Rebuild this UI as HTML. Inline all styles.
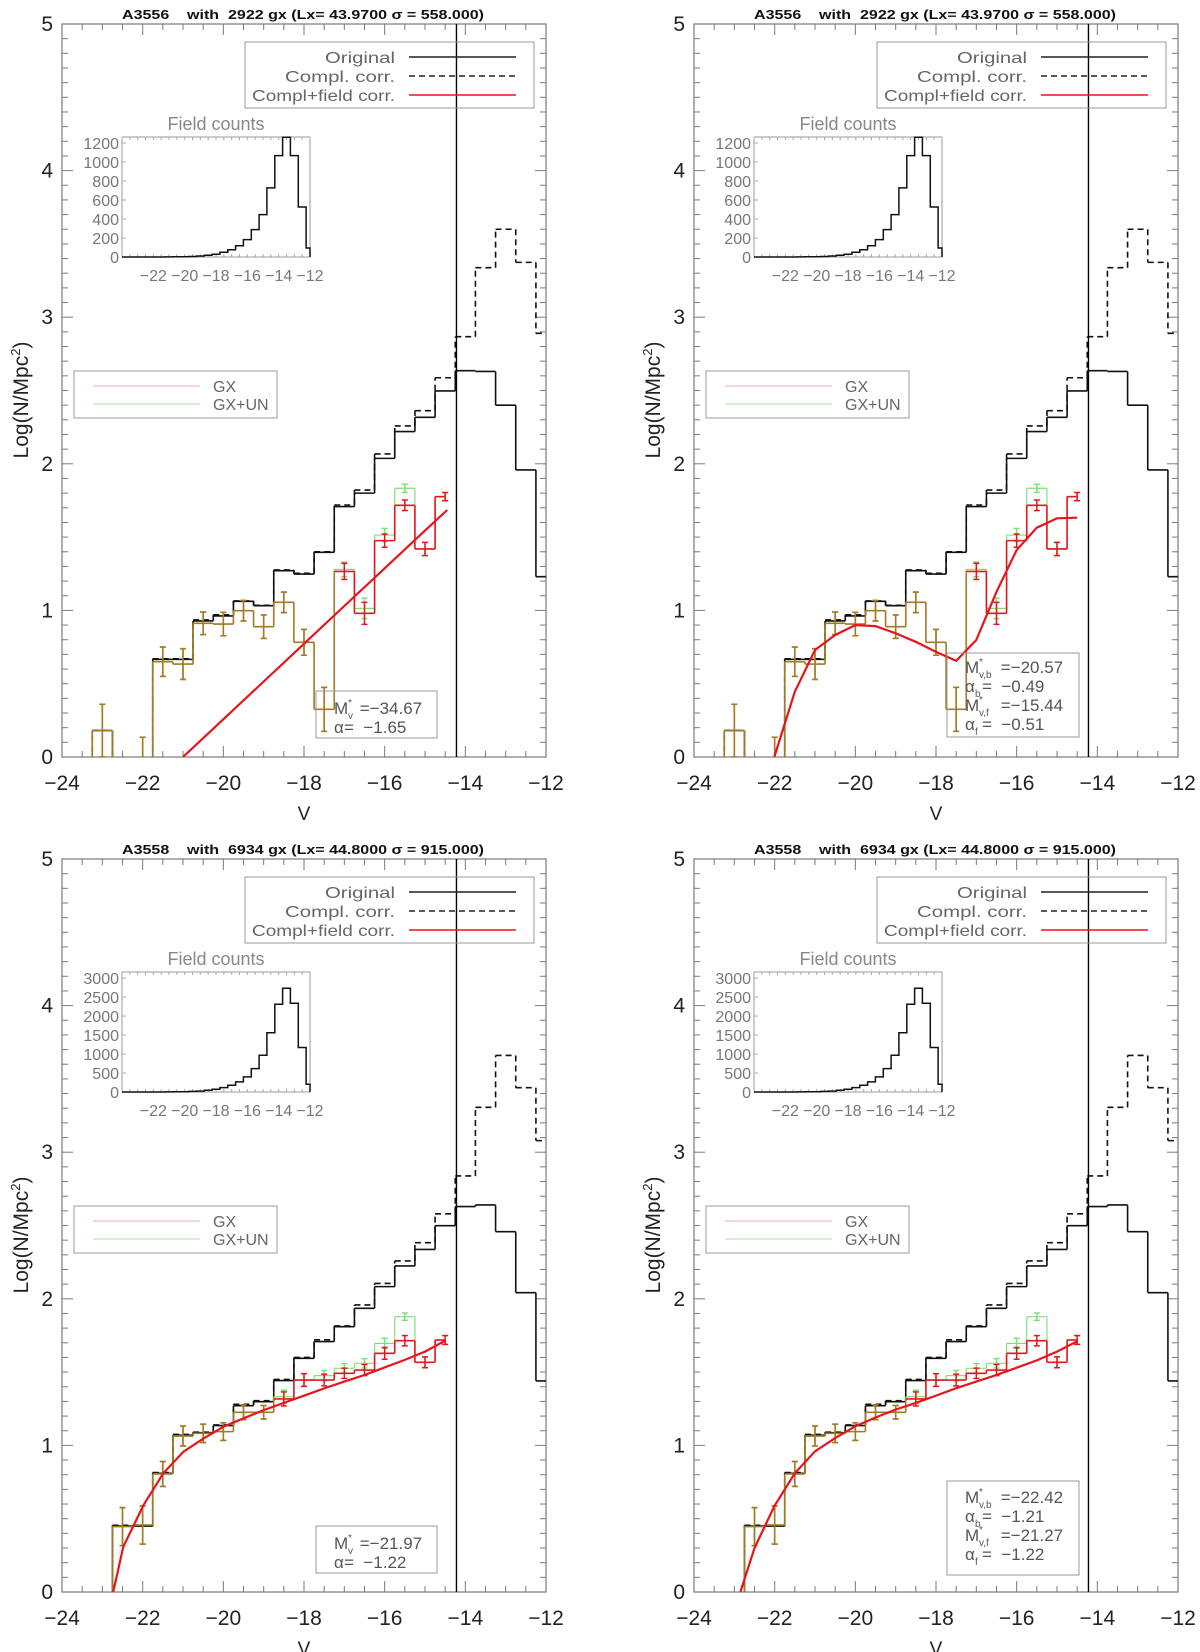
<!DOCTYPE html>
<html><head><meta charset="utf-8">
<style>
html,body{margin:0;padding:0;background:#fff;}
svg{display:block;font-family:"Liberation Sans",sans-serif;}
.pre{white-space:pre;}
</style></head>
<body>
<svg id="fig" width="1200" height="1652" viewBox="0 0 1200 1652" xmlns="http://www.w3.org/2000/svg"></svg>
<script>
// ---------- DATA ----------
const binCenters = [-23,-22.5,-22,-21.5,-21,-20.5,-20,-19.5,-19,-18.5,-18,-17.5,-17,-16.5,-16,-15.5,-15,-14.5,-14,-13.5,-13,-12.5,-12];
// A3556
const a3556Original = [0.18,null,null,0.666,0.666,0.928,0.962,1.062,1.032,1.271,1.248,1.396,1.708,1.80,2.037,2.22,2.317,2.497,2.635,2.63,2.40,1.958,1.23];
const a3556Compl = [0.18,null,null,0.67,0.67,0.935,0.97,1.065,1.035,1.276,1.253,1.40,1.719,1.821,2.067,2.258,2.362,2.587,2.867,3.338,3.60,3.374,2.89];
const a3556Gx = [0.18,null,-0.05,0.65,0.634,0.912,0.907,0.998,0.889,1.055,0.782,0.325,1.266,0.98,1.476,1.717,1.419,1.776,null,null,null,null,null];
const a3556GxErr = [0.18,null,0.185,0.10,0.105,0.077,0.08,0.07,0.08,0.07,0.088,0.15,0.055,0.075,0.045,0.036,0.045,0.028,null,null,null,null,null];
const a3556GxUn = [0.18,null,-0.05,0.65,0.634,0.912,0.907,0.998,0.889,1.055,0.782,0.325,1.28,1.014,1.514,1.833,1.419,1.776,null,null,null,null,null];
const a3556GxUnErr = [0.18,null,0.185,0.10,0.105,0.077,0.08,0.07,0.08,0.07,0.088,0.15,0.05,0.07,0.045,0.028,0.045,0.028,null,null,null,null,null];
// A3558
const a3558Original = [null,0.45,0.45,0.81,1.07,1.087,1.135,1.271,1.298,1.442,1.594,1.708,1.81,1.935,2.083,2.224,2.337,2.499,2.629,2.64,2.458,2.042,1.44];
const a3558Compl = [null,0.455,0.455,0.815,1.075,1.09,1.14,1.28,1.305,1.45,1.60,1.72,1.815,1.958,2.105,2.258,2.383,2.58,2.838,3.306,3.66,3.44,3.079];
const a3558Gx = [null,0.446,0.457,0.805,1.064,1.082,1.094,1.226,1.226,1.317,1.446,1.446,1.492,1.514,1.628,1.714,1.567,1.719,null,null,null,null,null];
const a3558GxErr = [null,0.13,0.13,0.085,0.068,0.063,0.06,0.05,0.046,0.048,0.043,0.04,0.035,0.038,0.04,0.035,0.037,0.03,null,null,null,null,null];
const a3558GxUn = [null,0.446,0.457,0.805,1.064,1.082,1.094,1.226,1.226,1.332,1.446,1.476,1.526,1.56,1.696,1.878,1.567,1.719,null,null,null,null,null];
const a3558GxUnErr = [null,0.13,0.13,0.085,0.068,0.063,0.06,0.05,0.046,0.045,0.043,0.035,0.032,0.032,0.035,0.025,0.037,0.03,null,null,null,null,null];
// Fits
const fit1V = [-21,-20,-19,-18,-17,-16,-15,-14.45];
const fit1Y = [0,0.257,0.515,0.772,1.03,1.287,1.544,1.685];
const fit2V = [-22.01,-21.5,-21,-20.5,-20,-19.5,-19,-18.5,-18,-17.5,-17,-16.5,-16,-15.5,-15,-14.5];
const fit2Y = [0,0.445,0.73,0.832,0.90,0.893,0.844,0.786,0.717,0.656,0.798,1.127,1.412,1.564,1.628,1.632];
const fit3V = [-22.73,-22.48,-21.98,-21.49,-20.99,-20.49,-19.99,-19.5,-19,-18.5,-18,-17.5,-17,-16.5,-16,-15.5,-15,-14.5];
const fit3Y = [0,0.309,0.593,0.809,0.957,1.048,1.128,1.185,1.241,1.29,1.339,1.389,1.435,1.48,1.532,1.583,1.64,1.714];
const fit4V = [-22.85,-22.5,-22,-21.5,-21,-20.5,-20,-19.5,-19,-18.5,-18,-17.5,-17,-16.5,-16,-15.5,-15,-14.5];
const fit4Y = [0,0.3,0.59,0.81,0.96,1.05,1.13,1.19,1.245,1.29,1.34,1.39,1.435,1.48,1.53,1.58,1.64,1.71];
// Field counts insets
const insetCenters = [-23.5,-23,-22.5,-22,-21.5,-21,-20.5,-20,-19.5,-19,-18.5,-18,-17.5,-17,-16.5,-16,-15.5,-15,-14.5,-14,-13.5,-13,-12.5,-12];
const field3556 = [0,0,0,0,0,1,2,3,5,10,18,28,49,77,119,183,288,446,727,1067,1260,1067,526,95];
const field3558 = [0,0,0,0,1,2,4,8,15,25,44,70,115,176,265,397,617,970,1561,2311,2734,2337,1173,203];
const field3556Ticks = [0,200,400,600,800,1000,1200];
const field3558Ticks = [0,500,1000,1500,2000,2500,3000];
const xTicks = [-24,-22,-20,-18,-16,-14,-12];
const yTicks = [0,1,2,3,4,5];
const insetXTicks = [-22,-20,-18,-16,-14,-12];
const cutV = -14.22;

// ---------- DRAW ----------
const NS = "http://www.w3.org/2000/svg";
const svg = document.getElementById('fig');
function mk(parent, tag, attrs, text){
  const e = document.createElementNS(NS, tag);
  for (const k in attrs) e.setAttribute(k, attrs[k]);
  if (text !== undefined) e.textContent = text;
  parent.appendChild(e);
  return e;
}
const GRAY = "#7a7a7a", TXT = "#666";
const RED = "#e8141c", BROWN = "#a37b22", GREEN = "#7fe07a";

function panel(cfg){
  const ox = cfg.ox, oy = cfg.oy;
  const X0 = 62+ox, X1 = 546+ox, Ytop = 24+oy, Y0 = 757+oy;
  const sx = v => X0 + (v+24)/12*(X1-X0);
  const sy = l => Y0 - l/5*(Y0-Ytop);
  const g = mk(svg,'g',{});
  
  
  const cid = 'clip'+cfg.name;
  const cp = mk(g,'clipPath',{id:cid});
  mk(cp,'rect',{x:X0,y:Ytop,width:X1-X0,height:Y0-Ytop});

  const t = mk(g,'text',{x:303+ox,y:19+oy,'text-anchor':'middle','font-size':13,'font-weight':'bold',fill:'#111','class':'pre',textLength:362,lengthAdjust:'spacingAndGlyphs'}, cfg.title);
  
  

  const fr = mk(g,'rect',{x:X0,y:Ytop,width:X1-X0,height:Y0-Ytop,fill:'none',stroke:GRAY,'stroke-width':1.2});
  
  
  for (let v=-24; v<=-11.999; v+=0.5){
    const major = Math.abs(v/2-Math.round(v/2))<1e-6;
    const L = major?11:6;
    mk(g,'line',{x1:sx(v),x2:sx(v),y1:Y0,y2:Y0-L,stroke:GRAY,'stroke-width':1});
    mk(g,'line',{x1:sx(v),x2:sx(v),y1:Ytop,y2:Ytop+L,stroke:GRAY,'stroke-width':1});
  }
  for (let i=0;i<=50;i++){
    const l = i/10, major = i%10===0, L = major?11:6;
    mk(g,'line',{x1:X0,x2:X0+L,y1:sy(l),y2:sy(l),stroke:GRAY,'stroke-width':1});
    mk(g,'line',{x1:X1,x2:X1-L,y1:sy(l),y2:sy(l),stroke:GRAY,'stroke-width':1});
  }
  xTicks.forEach(v=>{
    const e = mk(g,'text',{x:sx(v),y:Y0+33,'text-anchor':'middle','font-size':21,fill:'#222'}, String(v).replace('-','\u2212'));
    
    
  });
  yTicks.forEach(l=>{
    const e = mk(g,'text',{x:X0-9,y:sy(l)+7,'text-anchor':'end','font-size':21,fill:'#222'}, String(l));
    
    
  });
  const xt = mk(g,'text',{x:304+ox,y:820+oy,'text-anchor':'middle','font-size':19,fill:'#222'},'V');
  
  
  const yt = mk(g,'text',{x:0,y:0,'text-anchor':'middle','font-size':21,fill:'#222',transform:`translate(${28+ox},${400+oy}) rotate(-90)`});
  
  
  mk(yt,'tspan',{},'Log(N/Mpc');
  mk(yt,'tspan',{dy:-8,'font-size':13},'2');
  mk(yt,'tspan',{dy:8},')');

  const pg = mk(g,'g',{'clip-path':`url(#${cid})`});
  function steps(vals, colorFn, width, dash, name, halfLast){
    const idx = vals.map((v,i)=>v===null?null:i).filter(i=>i!==null);
    const lastI = idx[idx.length-1];
    for (let i=0;i<vals.length;i++){
      if (vals[i]===null) continue;
      const v = Math.max(vals[i], -0.1);
      const c = binCenters[i];
      const xr = (halfLast && i===lastI) ? c : c+0.25;
      const col = colorFn(i);
      const s = mk(pg,'line',{x1:sx(c-0.25),x2:sx(xr),y1:sy(v),y2:sy(v),stroke:col,'stroke-width':width,'stroke-dasharray':dash||'none'});
      
      
      const prevV = (i>0 && vals[i-1]!==null) ? Math.max(vals[i-1],-0.1) : -0.1;
      const col2 = (i>0 && vals[i-1]!==null) ? colorFn(i-1) : col;
      mk(pg,'line',{x1:sx(c-0.25),x2:sx(c-0.25),y1:sy(prevV),y2:sy(v),stroke:col2,'stroke-width':width,'stroke-dasharray':dash||'none'});
      if (i===lastI && !halfLast && i<vals.length-1){
        mk(pg,'line',{x1:sx(c+0.25),x2:sx(c+0.25),y1:sy(v),y2:sy(-0.1),stroke:col,'stroke-width':width,'stroke-dasharray':dash||'none'});
      }
      if (i<vals.length-1 && vals[i+1]===null && i!==lastI){
        mk(pg,'line',{x1:sx(c+0.25),x2:sx(c+0.25),y1:sy(v),y2:sy(-0.1),stroke:col,'stroke-width':width,'stroke-dasharray':dash||'none'});
      }
    }
  }
  function errbars(vals, errs, colorFn, name){
    for (let i=0;i<vals.length;i++){
      if (vals[i]===null || errs[i]===null) continue;
      const c = binCenters[i], col = colorFn(i);
      const lo = vals[i]-errs[i], hi = vals[i]+errs[i];
      const e = mk(pg,'line',{x1:sx(c),x2:sx(c),y1:sy(lo),y2:sy(hi),stroke:col,'stroke-width':1.5});
      
      
      mk(pg,'line',{x1:sx(c)-3,x2:sx(c)+3,y1:sy(lo),y2:sy(lo),stroke:col,'stroke-width':1.5});
      mk(pg,'line',{x1:sx(c)-3,x2:sx(c)+3,y1:sy(hi),y2:sy(hi),stroke:col,'stroke-width':1.5});
    }
  }
  const same = i => cfg.gx[i]!==null && Math.abs(cfg.gx[i]-cfg.gxun[i])<0.005 && binCenters[i] < cfg.brownMax;
  steps(cfg.compl, ()=>'#111', 1.6, '6,4', 'compl-corr');
  steps(cfg.orig, ()=>'#111', 1.6, null, 'original');
  steps(cfg.gxun, ()=>GREEN, 1.2, null, 'gx-un', true);
  errbars(cfg.gxun, cfg.gxunErr, i=>same(i)?BROWN:GREEN, 'gx-un');
  steps(cfg.gx, i=>same(i)?BROWN:RED, 1.6, null, 'gx', true);
  errbars(cfg.gx, cfg.gxErr, i=>same(i)?BROWN:RED, 'gx');
  const pts = cfg.fitV.map((v,i)=>`${sx(v).toFixed(1)},${sy(cfg.fitY[i]).toFixed(1)}`).join(' ');
  const fl = mk(pg,'polyline',{points:pts,fill:'none',stroke:RED,'stroke-width':2.2});
  
  
  const vl = mk(g,'line',{x1:sx(cutV),x2:sx(cutV),y1:Ytop,y2:Y0,stroke:'#000','stroke-width':1.4});
  
  

  // main legend
  const lg = mk(g,'g',{});
  
  
  mk(lg,'rect',{x:245+ox,y:42+oy,width:289,height:66,fill:'none',stroke:'#999','stroke-width':1});
  [['Original','#222',null,57,70],['Compl. corr.','#222','6,4',76,110],['Compl+field corr.',RED,null,95,143]].forEach(r=>{
    const tt = mk(lg,'text',{x:395+ox,y:r[3]+6+oy,'text-anchor':'end','font-size':16,fill:TXT,textLength:r[4],lengthAdjust:'spacingAndGlyphs'}, r[0]);
    
    
    mk(lg,'line',{x1:409+ox,x2:516+ox,y1:r[3]+oy,y2:r[3]+oy,stroke:r[1],'stroke-width':1.5,'stroke-dasharray':r[2]||'none'});
  });
  // GX legend
  const lg2 = mk(g,'g',{});
  
  
  mk(lg2,'rect',{x:74+ox,y:371+oy,width:203,height:47,fill:'none',stroke:'#999','stroke-width':1});
  [['GX','#f2a8a8',386],['GX+UN','#a8e6a0',404]].forEach(r=>{
    mk(lg2,'line',{x1:93+ox,x2:200+ox,y1:r[2]+oy,y2:r[2]+oy,stroke:r[1],'stroke-width':1});
    const tt = mk(lg2,'text',{x:213+ox,y:r[2]+6+oy,'font-size':16,fill:TXT}, r[0]);
    
    
  });
  // parameter box
  const pb = mk(g,'g',{});
  
  
  const b = cfg.box;
  mk(pb,'rect',{x:b.x+ox,y:b.y+oy,width:b.w,height:b.h,fill:'none',stroke:'#999','stroke-width':1});
  b.lines.forEach((ln,k)=>{
    const x = b.tx+ox, y = b.ly[k]+6+oy;
    const sym = mk(pb,'text',{x:x,y:y,'font-size':17,fill:'#555'}, ln[0]);
    
    
    const w0 = ln[0]==='M'?14:10;
    if (ln[1]) mk(pb,'text',{x:x+w0,y:y-8,'font-size':10,fill:'#555'},'*');
    let w1 = 0;
    if (ln[2]) { mk(pb,'text',{x:x+w0,y:y+5,'font-size':10,fill:'#555'},ln[2]); w1 = ln[2].length*5+2; }
    const tt = mk(pb,'text',{x:x+w0+w1,y:y,'font-size':17,fill:'#555','class':'pre'}, ln[3]);
    
    
  });

  // inset
  const ig = mk(g,'g',{});
  
  
  const IX0 = 122+ox, IX1 = 310+ox, IY0 = 257+oy, IY1 = 137+oy;
  const isx = v => IX0 + (v+24)/12*(IX1-IX0);
  const isy = c => IY0 - c/cfg.insetMax*(IY0-IY1);
  mk(ig,'rect',{x:IX0,y:IY1,width:IX1-IX0,height:IY0-IY1,fill:'none',stroke:'#999','stroke-width':1});
  for (let v=-24; v<=-12; v+=0.5){
    mk(ig,'line',{x1:isx(v),x2:isx(v),y1:IY0,y2:IY0-3,stroke:'#aaa','stroke-width':1});
    mk(ig,'line',{x1:isx(v),x2:isx(v),y1:IY1,y2:IY1+3,stroke:'#aaa','stroke-width':1});
  }
  const it = mk(ig,'text',{x:216+ox,y:130+oy,'text-anchor':'middle','font-size':18,fill:'#888'},'Field counts');
  
  
  cfg.insetTicks.forEach(c=>{
    const tt = mk(ig,'text',{x:IX0-3,y:isy(c)+6,'text-anchor':'end','font-size':16,fill:'#777'},String(c));
    
    
    mk(ig,'line',{x1:IX0,x2:IX0+4,y1:isy(c),y2:isy(c),stroke:'#aaa'});
  });
  insetXTicks.forEach(v=>{
    const tt = mk(ig,'text',{x:isx(v),y:IY0+24,'text-anchor':'middle','font-size':16,fill:'#777'},String(v).replace('-','\u2212'));
    
    
  });
  let d = `M${IX0},${isy(0)}`;
  cfg.field.forEach((c,i)=>{
    const v = insetCenters[i];
    const xl = Math.max(v-0.25,-24), xr = Math.min(v+0.25,-12);
    d += ` L${isx(xl).toFixed(1)},${isy(c).toFixed(1)} L${isx(xr).toFixed(1)},${isy(c).toFixed(1)}`;
  });
  d += ` L${isx(-12).toFixed(1)},${isy(0).toFixed(1)}`;
  const ih = mk(ig,'path',{d:d,fill:'none',stroke:'#111','stroke-width':1.5});
  
  
}

const t3556 = 'A3556    with  2922 gx (Lx= 43.9700 \u03c3 = 558.000)';
const t3558 = 'A3558    with  6934 gx (Lx= 44.8000 \u03c3 = 915.000)';
const box1 = (a,b)=>({x:316,y:691,w:121,h:47,tx:334,ly:[708,727],lines:[['M',true,'v',' =\u2212'+a],['\u03b1',false,'','=  \u2212'+b]]});
const box2 = (a,b,c,d,y0,h,ly)=>({x:315,y:y0,w:132,h:h,tx:333,ly:ly,lines:[['M',true,'v,b',' =\u2212'+a],['\u03b1',false,'b','=  \u2212'+b],['M',true,'v,f',' =\u2212'+c],['\u03b1',false,'f','=  \u2212'+d]]});

panel({name:'panel-a3556-single',ox:0,oy:0,title:t3556,orig:a3556Original,compl:a3556Compl,gx:a3556Gx,gxErr:a3556GxErr,gxun:a3556GxUn,gxunErr:a3556GxUnErr,fitV:fit1V,fitY:fit1Y,box:box1('34.67','1.65'),field:field3556,insetMax:1263,insetTicks:field3556Ticks,brownMax:-17.25});
panel({name:'panel-a3556-double',ox:632,oy:0,title:t3556,orig:a3556Original,compl:a3556Compl,gx:a3556Gx,gxErr:a3556GxErr,gxun:a3556GxUn,gxunErr:a3556GxUnErr,fitV:fit2V,fitY:fit2Y,box:box2('20.57','0.49','15.44','0.51',653,84,[667,686,705,724]),field:field3556,insetMax:1263,insetTicks:field3556Ticks,brownMax:-17.25});
panel({name:'panel-a3558-single',ox:0,oy:835,title:t3558,orig:a3558Original,compl:a3558Compl,gx:a3558Gx,gxErr:a3558GxErr,gxun:a3558GxUn,gxunErr:a3558GxUnErr,fitV:fit3V,fitY:fit3Y,box:box1('21.97','1.22'),field:field3558,insetMax:3160,insetTicks:field3558Ticks,brownMax:-18.25});
panel({name:'panel-a3558-double',ox:632,oy:835,title:t3558,orig:a3558Original,compl:a3558Compl,gx:a3558Gx,gxErr:a3558GxErr,gxun:a3558GxUn,gxunErr:a3558GxUnErr,fitV:fit4V,fitY:fit4Y,box:box2('22.42','1.21','21.27','1.22',646,94,[662,681,700,719]),field:field3558,insetMax:3160,insetTicks:field3558Ticks,brownMax:-18.25});
</script>
</body></html>
